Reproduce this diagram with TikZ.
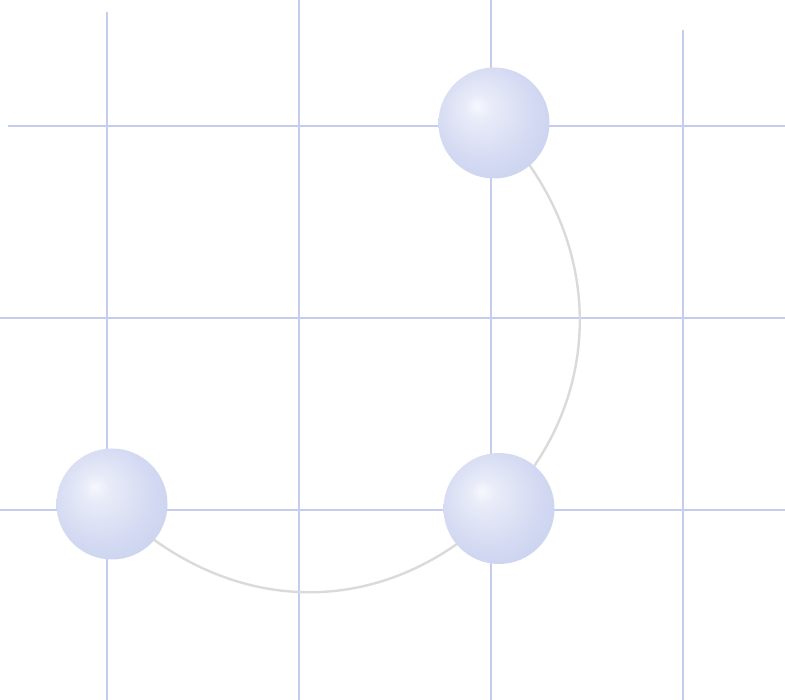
\documentclass[tikz,border=0pt]{standalone}
\usepackage{tikz}
\usepackage{xcolor}
\definecolor{gridblue}{HTML}{C4CDEE}
\definecolor{arcgray}{HTML}{DADADA}
\definecolor{ballhi}{HTML}{F7F8FD}
\definecolor{ballglow}{HTML}{E8EBF8}
\definecolor{ballmid}{HTML}{D4DAF2}
\definecolor{balledge}{HTML}{B8C4E9}
\pgfdeclareradialshading{ballshade}{\pgfpoint{-8bp}{8bp}}{%
  color(0bp)=(ballhi); color(6bp)=(ballglow); color(22bp)=(ballmid);
  color(50bp)=(balledge)}

\begin{document}
\begin{tikzpicture}[x=1pt, y=1pt,
  grid/.style={draw=gridblue, line width=1.2pt},
  ball/.style={circle, inner sep=0pt, minimum size=111pt, shading=ballshade},
  orbit/.style={draw=arcgray, line width=2.4pt}]
  \useasboundingbox (0,0) rectangle (785,700);
  % grid
  \draw[grid] (107,688) -- (107,0);
  \draw[grid] (299,700) -- (299,0);
  \draw[grid] (491,700) -- (491,0);
  \draw[grid] (683,670) -- (683,0);
  \draw[grid] (8,574) -- (785,574);
  \draw[grid] (0,382) -- (785,382);
  \draw[grid] (0,190) -- (785,190);
  % sphere centres, arcs behind the spheres
  \coordinate (top) at (494,577);
  \coordinate (left) at (112,196);
  \coordinate (right) at (499,191.5);
  \draw[orbit] (left) to[out=-45, in=-135, looseness=1.07] (right);
  \draw[orbit] (right) to[out=45, in=-45, looseness=1.04] (top);
  % spheres
  \node[ball] (topball) at (top) {};
  \node[ball] (leftball) at (left) {};
  \node[ball] (rightball) at (right) {};
\end{tikzpicture}
\end{document}
